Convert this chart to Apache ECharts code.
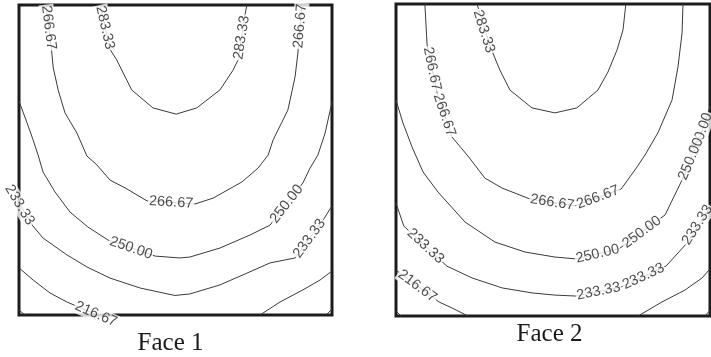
<!DOCTYPE html>
<html>
<head>
<meta charset="utf-8">
<script src="https://cdn.jsdelivr.net/npm/echarts@6/dist/echarts.min.js"></script>
<style>
  html, body { margin: 0; padding: 0; background: #fff; }
  #chart { width: 711px; height: 357px; }
</style>
</head>
<body>
<div id="chart"></div>
<script>
// Panel captions
const faceNames = ['Face 1', 'Face 2'];

// Isotherm traces, points are [x, y] in % of face width / height (y upward)
// ---- Face 1 ----
const f1_283 = [[25.9,100],[29.2,85.5],[31.2,82.3],[36.0,72.6],[42.8,66.8],[50.2,64.8],[56.8,66.8],[64.2,72.6],[68.4,79.0],[70.0,82.3],[72.2,96.8],[72.8,100]];
const f1_267 = [[8.6,100],[10.4,85.5],[10.9,80.0],[12.5,72.6],[14.7,65.2],[18.5,58.7],[21.7,51.3],[24.9,48.4],[29.1,43.5],[33.9,41.0],[40.9,36.8],[56.2,35.8],[62.0,37.7],[71.2,42.9],[76.4,47.4],[79.6,51.6],[81.2,56.5],[85.9,66.1],[88.2,76.8],[89.1,84.5],[90.4,100]];
const f1_250 = [[0,69.0],[2.6,61.9],[4.5,56.5],[6.1,51.6],[7.7,46.1],[11.5,39.7],[16.3,33.2],[22.0,28.4],[28.4,24.2],[43.5,19.0],[51.4,18.4],[54.6,18.7],[64.2,21.6],[73.8,25.8],[80.2,29.0],[90.7,42.6],[93.0,47.4],[95.5,51.6],[97.8,58.7],[100,68.7]];
const f1_233 = [[0,36.1],[4.2,29.0],[7.7,24.8],[15.3,19.4],[21.7,15.5],[29.1,11.9],[38.7,8.7],[49.8,6.3],[54.6,6.8],[64.2,9.7],[72.8,13.5],[80.2,16.8],[88.2,18.4],[97.4,31.0],[100,35.2]];
const f1_217a = [[0,15.2],[4.5,11.3],[9.9,7.1],[15.3,4.2],[24.9,0]];
const f1_217b = [[77.0,0],[83.4,4.2],[90.7,8.1],[96.2,11.3],[100,14.2]];
const f1_200a = [[0,1.6],[1.9,0]];
const f1_200b = [[98.1,0],[100,1.9]];
// label anchors on the isotherms: [x, y, level]
const f1_labels = [
  [27.5,92.7,283.33],[71.1,89.5,283.33],
  [9.5,92.7,266.67],[48.6,36.3,266.67],[89.8,93.2,266.67],
  [35.8,21.6,250.00],[85.5,35.8,250.00],
  [0.2,35.5,233.33],[92.8,24.7,233.33],
  [24.6,0.3,216.67]
];

// ---- Face 2 ----
const f2_283 = [[25.8,100],[30.3,85.6],[33.1,78.8],[36.3,72.4],[43.3,66.7],[50.6,65.1],[57.6,66.7],[64.3,72.4],[67.5,78.2],[70.4,85.3],[72.3,91.7],[73.2,100]];
const f2_267 = [[9.2,100],[9.9,86.9],[13.1,71.5],[17.8,57.4],[22.9,51.3],[28.3,44.2],[33.8,41.0],[42.7,37.5],[57.0,35.3],[71.7,40.7],[76.8,47.8],[79.3,51.6],[83.4,58.7],[87.9,69.2],[89.8,79.8],[91.1,90.7],[91.4,100]];
const f2_250 = [[0,69.2],[2.2,61.9],[5.1,54.2],[8.6,46.2],[13.4,39.7],[22.0,30.1],[31.5,23.7],[41.1,20.5],[50.6,18.9],[57.3,18.3],[71.0,21.5],[85.7,32.4],[91.4,44.2],[96.8,57.4],[98.7,62.8],[100,67.3]];
const f2_233 = [[0,36.2],[2.5,28.8],[16.2,16.0],[24.2,12.2],[33.8,9.0],[43.3,7.4],[50.6,6.7],[57.3,6.4],[71.7,9.3],[86.0,16.0],[92.7,23.4],[100,34.8]];
const f2_217a = [[0,14.7],[13.7,4.5],[17.8,2.6],[22.9,0]];
const f2_217b = [[77.1,0],[84.7,4.5],[92.0,8.3],[97.5,12.2],[100,15.1]];
const f2_200a = [[0,1.6],[1.6,0]];
const f2_200b = [[98.4,0],[100,1.8]];
const f2_labels = [
  [28.0,91.2,283.33],
  [11.5,79.2,266.67],[15.4,64.4,266.67],[49.8,36.4,266.67],[64.3,38.0,266.67],
  [64.2,19.9,250.00],[78.3,26.9,250.00],[97.1,58.3,250.00],[93.9,50.3,250.00],
  [9.4,22.4,233.33],[64.5,7.9,233.33],[78.8,12.7,233.33],[96.0,29.2,233.33],
  [6.8,9.6,216.67]
];

const faces = [
  {
    box: { left: 19, top: 5, width: 313, height: 310 },
    caption: { x: 170.5, y: 343 },
    lines: [
      { level: 283.33, pts: f1_283 }, { level: 266.67, pts: f1_267 },
      { level: 250.00, pts: f1_250 }, { level: 233.33, pts: f1_233 },
      { level: 216.67, pts: f1_217a }, { level: 216.67, pts: f1_217b },
      { level: 200.00, pts: f1_200a }, { level: 200.00, pts: f1_200b }
    ],
    labels: f1_labels
  },
  {
    box: { left: 396, top: 4, width: 314, height: 312 },
    caption: { x: 549.5, y: 334 },
    lines: [
      { level: 283.33, pts: f2_283 }, { level: 266.67, pts: f2_267 },
      { level: 250.00, pts: f2_250 }, { level: 233.33, pts: f2_233 },
      { level: 216.67, pts: f2_217a }, { level: 216.67, pts: f2_217b },
      { level: 200.00, pts: f2_200a }, { level: 200.00, pts: f2_200b }
    ],
    labels: f2_labels
  }
];

const chart = echarts.init(document.getElementById('chart'), null, { renderer: 'canvas' });

const lineSeries = [];
faces.forEach((f, i) => {
  f.lines.forEach(c => {
    lineSeries.push({
      type: 'line', xAxisIndex: i, yAxisIndex: i,
      data: c.pts, symbol: 'none', silent: true, clip: true, z: 2,
      lineStyle: { color: '#3a3a3a', width: 1 }
    });
  });
});

chart.setOption({
  animation: false,
  grid: faces.map(f => Object.assign({
    show: true, borderColor: '#1c1c1c', borderWidth: 3,
    backgroundColor: 'transparent', containLabel: false
  }, f.box)),
  xAxis: faces.map((f, i) => ({ type: 'value', gridIndex: i, min: 0, max: 100, show: false })),
  yAxis: faces.map((f, i) => ({ type: 'value', gridIndex: i, min: 0, max: 100, show: false })),
  graphic: faces.map((f, i) => ({
    type: 'text', x: f.caption.x, y: f.caption.y, silent: true,
    style: {
      text: faceNames[i], fill: '#1a1a1a', fontSize: 25,
      fontFamily: '"Liberation Serif", "Times New Roman", serif',
      align: 'center', verticalAlign: 'middle'
    }
  })),
  series: lineSeries
});

// Orient each contour label along the nearest segment of its isotherm
function segDist(p, a, b) {
  const dx = b[0] - a[0], dy = b[1] - a[1];
  const len2 = dx * dx + dy * dy || 1;
  let t = ((p[0] - a[0]) * dx + (p[1] - a[1]) * dy) / len2;
  t = Math.max(0, Math.min(1, t));
  const qx = a[0] + t * dx, qy = a[1] + t * dy;
  return Math.hypot(p[0] - qx, p[1] - qy);
}

const labelSeries = faces.map((f, i) => {
  const toPx = v => chart.convertToPixel({ gridIndex: i }, [v[0], v[1]]);
  const data = f.labels.map(l => {
    const p = toPx(l);
    let best = null, bestD = Infinity;
    f.lines.filter(c => c.level === l[2]).forEach(c => {
      for (let k = 0; k < c.pts.length - 1; k++) {
        const a = toPx(c.pts[k]), b = toPx(c.pts[k + 1]);
        const d = segDist(p, a, b);
        if (d < bestD) { bestD = d; best = [a, b]; }
      }
    });
    let ang = Math.atan2(-(best[1][1] - best[0][1]), best[1][0] - best[0][0]) * 180 / Math.PI;
    if (ang > 90) ang -= 180;
    if (ang <= -90) ang += 180;
    return { value: l, label: { rotate: ang } };
  });
  return {
    type: 'scatter', xAxisIndex: i, yAxisIndex: i, clip: false, silent: true,
    symbolSize: 0, z: 5, data: data,
    label: {
      show: true, position: 'inside', align: 'center', verticalAlign: 'middle',
      formatter: p => p.value[2].toFixed(2),
      fontSize: 14.5, fontFamily: '"Liberation Sans", Arial, sans-serif',
      color: '#222', backgroundColor: '#fff', padding: [0, 1]
    }
  };
});

chart.setOption({ series: lineSeries.concat(labelSeries) });
</script>
</body>
</html>
